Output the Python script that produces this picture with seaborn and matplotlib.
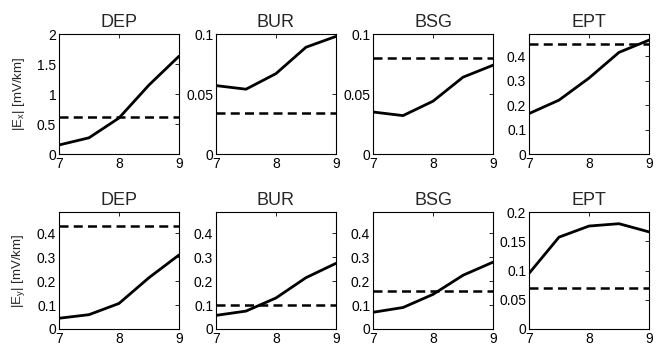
import numpy as np
import pandas as pd
import seaborn as sns
from matplotlib import pyplot as plt

# frequency axis shared by all panels
freq = [7, 7.5, 8, 8.5, 9]
sites = ['DEP', 'BUR', 'BSG', 'EPT']

# |Ex| curves and dashed reference levels
ex_dep = [0.15, 0.27, 0.60, 1.15, 1.63]
ex_bur = [0.057, 0.054, 0.067, 0.089, 0.098]
ex_bsg = [0.035, 0.032, 0.044, 0.064, 0.074]
ex_ept = [0.165, 0.22, 0.31, 0.415, 0.465]
ex_ref = [0.61, 0.034, 0.080, 0.45]

# |Ey| curves and dashed reference levels
ey_dep = [0.045, 0.060, 0.107, 0.215, 0.31]
ey_bur = [0.057, 0.075, 0.13, 0.215, 0.275]
ey_bsg = [0.070, 0.090, 0.145, 0.225, 0.28]
ey_ept = [0.095, 0.157, 0.176, 0.180, 0.166]
ey_ref = [0.43, 0.10, 0.16, 0.07]

ex_ylim = [2, 0.1, 0.1, 0.49]
ex_ticks = [[0, 0.5, 1, 1.5, 2], [0, 0.05, 0.1], [0, 0.05, 0.1], [0, 0.1, 0.2, 0.3, 0.4]]
ey_ylim = [0.49, 0.49, 0.49, 0.2]
ey_ticks = [[0, 0.1, 0.2, 0.3, 0.4]] * 3 + [[0, 0.05, 0.1, 0.15, 0.2]]

sns.set_style("white")
plt.rcParams['font.family'] = ['Liberation Sans', 'DejaVu Sans']
plt.rcParams['mathtext.fontset'] = 'custom'
plt.rcParams['mathtext.rm'] = 'Liberation Sans'
plt.rcParams['mathtext.it'] = 'Liberation Sans'

W, H = 660, 345
fig = plt.figure(figsize=(W / 100, H / 100), dpi=100)

col_x = [59, 216, 373, 529]
rows = [(34, 154), (212, 329)]

rowdata = [([ex_dep, ex_bur, ex_bsg, ex_ept], ex_ref, ex_ylim, ex_ticks, r'|E$_x$| [mV/km]'),
           ([ey_dep, ey_bur, ey_bsg, ey_ept], ey_ref, ey_ylim, ey_ticks, r'|E$_y$| [mV/km]')]

for r, (top, bot) in enumerate(rows):
    series, refs, ylims, ticks, ylab = rowdata[r]
    for c in range(4):
        ax = fig.add_axes([col_x[c] / W, (H - bot) / H, 120 / W, (bot - top) / H])
        df = pd.DataFrame({'f': freq, 'E': series[c]})
        sns.lineplot(data=df, x='f', y='E', ax=ax, color='black', linewidth=2.0)
        ax.axhline(refs[c], color='black', linewidth=1.8, linestyle=(0, (3.6, 2.1)))
        ax.set_xlim(7, 9)
        ax.set_ylim(0, ylims[c])
        ax.set_xticks([7, 8, 9])
        ax.set_xticklabels(['7', '8', '9'])
        ax.set_yticks(ticks[c])
        ax.set_yticklabels(['%g' % t for t in ticks[c]])
        ax.tick_params(direction='in', top=True, right=True, length=3, width=0.6,
                       labelsize=10, pad=2, colors='black')
        for sp in ax.spines.values():
            sp.set_color('black')
            sp.set_linewidth(0.8)
        ax.set_title(sites[c], fontsize=13, pad=5)
        ax.set_xlabel('')
        if c == 0:
            ax.set_ylabel(ylab, fontsize=9.5)
            ax.yaxis.set_label_coords(-0.27, 0.5)
        else:
            ax.set_ylabel('')

fig.savefig('out.png', dpi=100)
